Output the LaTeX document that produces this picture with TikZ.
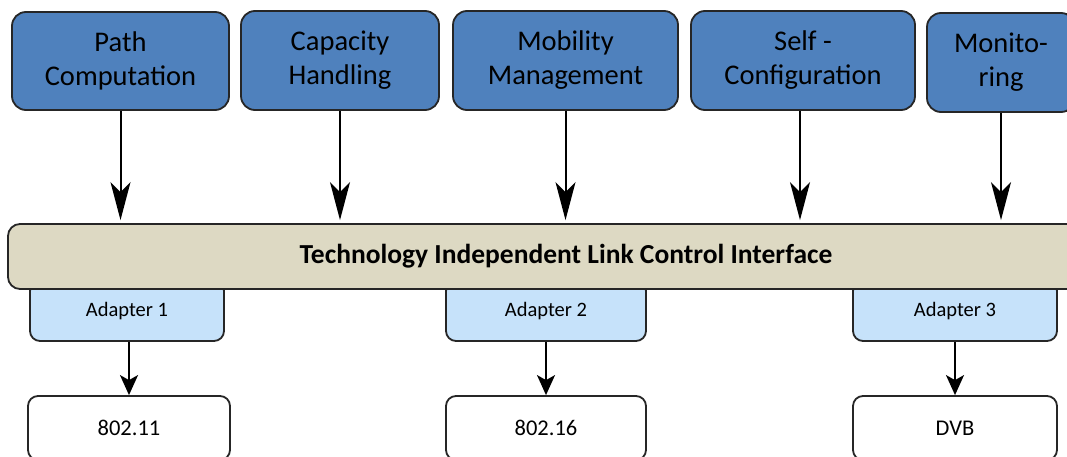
\documentclass[tikz,border=0pt]{standalone}
\usepackage{fontspec}
\setmainfont{Carlito}
\usetikzlibrary{arrows.meta}
\definecolor{topblue}{HTML}{4F81BD}
\definecolor{barfill}{HTML}{DDD9C3}
\definecolor{adfill}{HTML}{C6E2FA}
\definecolor{edge}{HTML}{262626}
\tikzset{
  funcbox/.style={draw=edge, line width=1.8pt, fill=topblue, rounded corners=14pt, align=center,
    font=\fontsize{28.5}{34}\selectfont, inner sep=0pt},
  barbox/.style={draw=edge, line width=1.8pt, fill=barfill, rounded corners=12pt,
    font=\fontsize{27.5}{32}\selectfont\bfseries, inner sep=0pt},
  adbox/.style={draw=edge, line width=1.8pt, fill=adfill, rounded corners=10pt,
    font=\fontsize{20.5}{24}\selectfont, inner sep=0pt},
  techbox/.style={draw=edge, line width=1.8pt, fill=white, rounded corners=10pt,
    font=\fontsize{22.5}{26}\selectfont, inner sep=0pt},
  bigarrow/.style={line width=2pt, -{Stealth[length=38pt,width=20pt,inset=10pt]}},
  smallarrow/.style={line width=2pt, -{Stealth[length=20pt,width=18pt,inset=5pt]}}
}
\begin{document}
\begin{tikzpicture}[x=1pt,y=-1pt]
\useasboundingbox (0,0) rectangle (1067,457);
\clip (0,0) rectangle (1067,457);
% top function boxes
\node[funcbox, minimum width=217pt, minimum height=98pt] (pc) at (120.5,61) {Path\\Computation};
\node[funcbox, minimum width=198pt, minimum height=99pt] (ch) at (340,60.5) {Capacity\\Handling};
\node[funcbox, minimum width=225pt, minimum height=99pt] (mm) at (565.5,60.5) {Mobility\\Management};
\node[funcbox, minimum width=224pt, minimum height=99pt] (sc) at (803,60.5) {Self -\\Configuration};
\node[funcbox, minimum width=148pt, minimum height=99pt] (mo) at (1001,62.5) {Monito-\\ring};
% adapters (drawn before the bar so their top corners hide behind it)
\node[adbox, minimum width=194pt, minimum height=60pt] (a1) at (127,311) {Adapter 1};
\node[adbox, minimum width=200pt, minimum height=60pt] (a2) at (546,311) {Adapter 2};
\node[adbox, minimum width=204pt, minimum height=60pt] (a3) at (955,311) {Adapter 3};
% interface bar
\node[barbox, minimum width=1116pt, minimum height=65pt] (bar) at (566,256.5) {Technology Independent Link Control Interface};
% technology boxes
\node[techbox, minimum width=202pt, minimum height=64pt] (b1) at (129,428) {802.11};
\node[techbox, minimum width=200pt, minimum height=64pt] (b2) at (546,428) {802.16};
\node[techbox, minimum width=204pt, minimum height=64pt] (b3) at (955,428) {DVB};
% arrows
\foreach \n in {pc,ch,mm,mo}
  \draw[bigarrow, shorten >=3pt] (\n.south) -- (\n.south |- bar.north);
\draw[bigarrow, shorten >=3pt] ([xshift=-3pt]sc.south) -- ([xshift=-3pt]sc.south |- bar.north);
\draw[smallarrow] (b1.north |- a1.south) -- (b1.north);
\draw[smallarrow] (a2.south) -- (b2.north);
\draw[smallarrow] (a3.south) -- (b3.north);
\end{tikzpicture}
\end{document}
